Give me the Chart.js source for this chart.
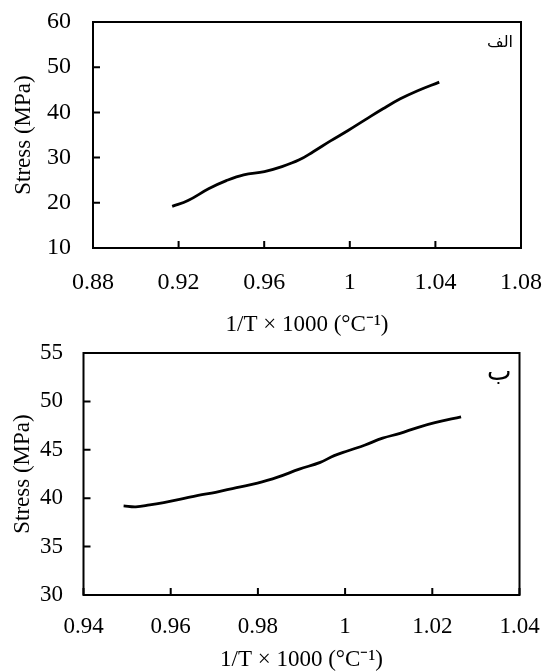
<!DOCTYPE html>
<html>
<head>
<meta charset="utf-8">
<script src="https://cdn.jsdelivr.net/npm/chart.js@4"></script>
<style>
    body { margin: 0; background: #fff; }
    .wrap { position: absolute; left: 0; width: 547px; height: 336px; }
</style>
</head>
<body>
<div class="wrap" style="top:0"><canvas id="TopChart"></canvas></div>
<div class="wrap" style="top:336px"><canvas id="BottomChart"></canvas></div>
<script>
// panel "الف"
var topX = [0.917, 0.9244, 0.934, 0.9423, 0.9504, 0.9601, 0.9683, 0.9764, 0.9829, 0.991, 0.9992, 1.0073, 1.0155, 1.0236, 1.0317, 1.0418];
var topY = [19.2, 20.5, 23.1, 24.9, 26.2, 26.9, 28.0, 29.5, 31.3, 33.7, 36.0, 38.4, 40.8, 43.0, 44.8, 46.7];
var topXTicks = [0.88, 0.92, 0.96, 1, 1.04, 1.08];
var topYTicks = [10, 20, 30, 40, 50, 60];

// panel "ب"
var bottomX = [0.9492, 0.952, 0.9552, 0.9584, 0.9623, 0.9663, 0.9703, 0.9751, 0.9799, 0.9847, 0.9895, 0.9943, 0.9975, 1.0007, 1.0046, 1.0086, 1.0126, 1.0166, 1.0206, 1.0266];
var bottomY = [39.2, 39.1, 39.3, 39.55, 39.9, 40.3, 40.6, 41.1, 41.55, 42.2, 43.0, 43.7, 44.4, 44.9, 45.5, 46.2, 46.7, 47.3, 47.8, 48.4];
var bottomXTicks = [0.94, 0.96, 0.98, 1, 1.02, 1.04];
var bottomYTicks = [30, 35, 40, 45, 50, 55];

var xTitle = '1/T × 1000 (°C⁻¹)';
var yTitle = 'Stress (MPa)';

var serif = "'Liberation Serif', 'Times New Roman', serif";

// frame + inward tick marks + panel letter
var framePlugin = {
    id: 'frame',
    afterDraw: chart => {
        let ctx = chart.ctx;
        let a = chart.chartArea;
        let xs = chart.scales.x, ys = chart.scales.y;
        ctx.save();
        ctx.strokeStyle = '#000';
        ctx.lineWidth = 2;
        ctx.beginPath();
        xs.ticks.forEach(t => {
            let px = xs.getPixelForValue(t.value);
            ctx.moveTo(px, a.bottom);
            ctx.lineTo(px, a.bottom - 7);
        });
        ys.ticks.forEach(t => {
            let py = ys.getPixelForValue(t.value);
            ctx.moveTo(a.left, py);
            ctx.lineTo(a.left + 7, py);
        });
        ctx.stroke();
        ctx.strokeRect(a.left, a.top, a.right - a.left, a.bottom - a.top);

        let tag = chart.options.plugins.frame.tag;
        ctx.fillStyle = '#000';
        ctx.font = tag.size + "px 'DejaVu Sans'";
        ctx.textAlign = 'right';
        ctx.textBaseline = 'middle';
        ctx.fillText(tag.text, a.right - 8, a.top + tag.dy);
        ctx.restore();
    }
};

function MakeChart(element_id, xData, yData, xTicks, yTicks, g) {
    let points = xData.map((x, i) => ({x: x, y: yData[i]}));
    return new Chart(document.getElementById(element_id), {
        type: 'line',
        plugins: [framePlugin],
        data: {
            datasets: [{
                data: points,
                borderColor: '#000',
                borderWidth: 2.8,
                pointRadius: 0,
                fill: false,
                tension: 0.4
            }]
        },
        options: {
            responsive: true,
            maintainAspectRatio: false,
            animation: false,
            layout: {padding: {top: g.top, right: g.right, left: 0, bottom: 0}},
            plugins: {
                legend: {display: false},
                tooltip: {enabled: false},
                frame: {tag: g.tag}
            },
            scales: {
                x: {
                    type: 'linear',
                    min: xTicks[0],
                    max: xTicks[xTicks.length - 1],
                    afterBuildTicks: s => { s.ticks = xTicks.map(v => ({value: v})); },
                    afterFit: s => {
                        s.height = g.xHeight;
                        s.paddingLeft = 0;
                        s.paddingRight = 0;
                    },
                    grid: {display: false, drawTicks: false},
                    border: {display: false},
                    ticks: {
                        color: '#000',
                        padding: g.xPad,
                        maxRotation: 0,
                        autoSkip: false,
                        font: {family: serif, size: g.tickSize},
                        callback: v => String(v)
                    },
                    title: {
                        display: true,
                        text: xTitle,
                        color: '#000',
                        padding: {top: 0, bottom: g.xTitlePad},
                        font: {family: serif, size: 23, lineHeight: 1}
                    }
                },
                y: {
                    min: yTicks[0],
                    max: yTicks[yTicks.length - 1],
                    afterBuildTicks: s => { s.ticks = yTicks.map(v => ({value: v})); },
                    afterFit: s => {
                        s.width = g.yWidth;
                        s.paddingTop = 0;
                        s.paddingBottom = 0;
                    },
                    grid: {display: false, drawTicks: false},
                    border: {display: false},
                    ticks: {
                        color: '#000',
                        padding: g.yPad,
                        font: {family: serif, size: g.tickSize},
                        callback: v => String(v)
                    },
                    title: {
                        display: true,
                        text: yTitle,
                        color: '#000',
                        padding: {top: g.yTitlePad, bottom: 0},
                        font: {family: serif, size: 23, lineHeight: 1}
                    }
                }
            }
        }
    });
}

MakeChart('TopChart', topX, topY, topXTicks, topYTicks, {
    top: 22, right: 26, xHeight: 88, yWidth: 93,
    xPad: 20, yPad: 22, tickSize: 24, xTitlePad: 0, yTitlePad: 12.5,
    tag: {text: 'الف', dy: 21, size: 16}
});

MakeChart('BottomChart', bottomX, bottomY, bottomXTicks, bottomYTicks, {
    top: 17, right: 27.5, xHeight: 77, yWidth: 83.5,
    xPad: 18, yPad: 20.5, tickSize: 23, xTitlePad: 0.5, yTitlePad: 11,
    tag: {text: 'ب', dy: 20, size: 26}
});
</script>
</body>
</html>
